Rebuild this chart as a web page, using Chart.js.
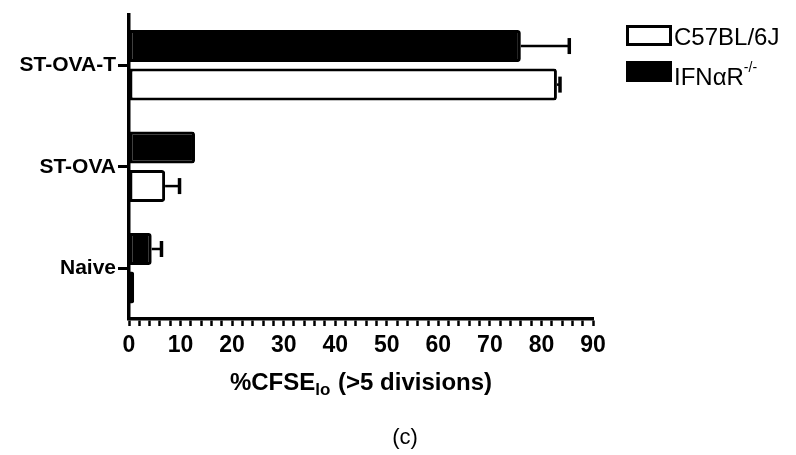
<!DOCTYPE html>
<html>
<head>
<meta charset="utf-8">
<script src="https://cdn.jsdelivr.net/npm/chart.js@4.4.1/dist/chart.umd.min.js"></script>
<style>
  html, body { margin: 0; padding: 0; background: #fff; }
  #wrap { position: relative; width: 796px; height: 455px; }
</style>
</head>
<body>
<div id="wrap"><canvas id="c" width="796" height="455"></canvas></div>
<script>
// Groups and measured proliferation (% CFSE-low cells, >5 divisions)
const categories = ['ST-OVA-T', 'ST-OVA', 'Naive'];
const c57Values = [83, 7, 1.0];
const c57Errors = [0.6, 2.8, 0];
const ifnarValues = [76, 12.8, 4.4];
const ifnarErrors = [9.4, 0, 1.9];
const xTicks = [0, 10, 20, 30, 40, 50, 60, 70, 80, 90];

const FONT = '"Liberation Sans", Arial, Helvetica, sans-serif';

// Error whiskers on the outer side of each bar, with a short cap
const errorBars = {
  id: 'errorBars',
  afterDatasetsDraw(chart) {
    const ctx = chart.ctx;
    const xs = chart.scales.x;
    chart.data.datasets.forEach((ds, di) => {
      const meta = chart.getDatasetMeta(di);
      meta.data.forEach((bar, i) => {
        const err = ds.errors[i];
        if (!err) return;
        const v = ds.data[i];
        const x0 = xs.getPixelForValue(v);
        const x1 = xs.getPixelForValue(v + err);
        const y = bar.y;
        ctx.save();
        ctx.strokeStyle = '#000';
        ctx.lineWidth = 2.5;
        ctx.beginPath();
        ctx.moveTo(x0, y);
        ctx.lineTo(x1, y);
        ctx.stroke();
        ctx.lineWidth = 3.5;
        ctx.beginPath();
        ctx.moveTo(x1, y - 8);
        ctx.lineTo(x1, y + 8);
        ctx.stroke();
        ctx.restore();
      });
    });
  }
};

// Axis title with subscript, legend with superscript, and panel caption
const annotations = {
  id: 'annotations',
  afterDraw(chart) {
    const ctx = chart.ctx;
    const area = chart.chartArea;
    ctx.save();
    ctx.fillStyle = '#000';
    ctx.textBaseline = 'alphabetic';

    // x-axis title: %CFSE(lo) (>5 divisions)
    const bigB = 'bold 24px ' + FONT;
    const smallB = 'bold 17px ' + FONT;
    const p1 = '%CFSE', sub = 'lo', p2 = ' (>5 divisions)';
    ctx.font = bigB; const w1 = ctx.measureText(p1).width; const w3 = ctx.measureText(p2).width;
    ctx.font = smallB; const w2 = ctx.measureText(sub).width + 1;
    let x = (area.left + area.right) / 2 - (w1 + w2 + w3) / 2;
    const yb = 390;
    ctx.textAlign = 'left';
    ctx.font = bigB; ctx.fillText(p1, x, yb); x += w1;
    ctx.font = smallB; ctx.fillText(sub, x, yb + 5); x += w2;
    ctx.font = bigB; ctx.fillText(p2, x, yb);

    // legend
    const ds = chart.data.datasets;
    const entries = [ds[1], ds[0]];
    const boxX = 626, boxW = 46, boxH = 21;
    const rows = [
      { y: 25, label: [{ t: 'C57BL/6J', sup: false }] },
      { y: 61, label: [{ t: 'IFN\u03b1R', sup: false }, { t: '-/-', sup: true }] }
    ];
    rows.forEach((row, r) => {
      const d = entries[r];
      ctx.fillStyle = d.backgroundColor;
      ctx.fillRect(boxX, row.y, boxW, boxH);
      ctx.strokeStyle = '#000';
      ctx.lineWidth = 3;
      ctx.strokeRect(boxX + 1.5, row.y + 1.5, boxW - 3, boxH - 3);
      ctx.fillStyle = '#000';
      let tx = boxX + boxW + 2;
      const base = r === 0 ? row.y + 20 : row.y + 24;
      row.label.forEach(part => {
        ctx.font = (part.sup ? '14px ' : '24px ') + FONT;
        ctx.fillText(part.t, tx, part.sup ? base - 13 : base);
        tx += ctx.measureText(part.t).width;
      });
    });

    // panel caption
    ctx.font = '22px ' + FONT;
    ctx.textAlign = 'center';
    ctx.fillText('(c)', 405, 444);
    ctx.restore();
  }
};

new Chart(document.getElementById('c'), {
  type: 'bar',
  data: {
    labels: categories,
    datasets: [
      {
        label: 'IFN\u03b1R-/-',
        data: ifnarValues,
        errors: ifnarErrors,
        backgroundColor: '#000',
        borderColor: '#000',
        borderWidth: 3,
        borderRadius: { topRight: 3, bottomRight: 3 },
        borderSkipped: false
      },
      {
        label: 'C57BL/6J',
        data: c57Values,
        errors: c57Errors,
        backgroundColor: '#fff',
        borderColor: '#000',
        borderWidth: 3,
        borderRadius: { topRight: 3, bottomRight: 3 },
        borderSkipped: false
      }
    ]
  },
  options: {
    indexAxis: 'y',
    responsive: false,
    animation: false,
    layout: { padding: { top: 8, right: 203, bottom: 0, left: 0 } },
    datasets: { bar: { categoryPercentage: 0.76, barPercentage: 0.83 } },
    plugins: { legend: { display: false }, tooltip: { enabled: false } },
    scales: {
      x: {
        type: 'linear',
        min: 0,
        max: 90,
        afterFit(scale) { scale.height = 136; },
        afterBuildTicks(scale) {
          const t = [];
          for (let v = 0; v <= 90; v += 2) t.push({ value: v });
          scale.ticks = t;
        },
        border: { display: true, color: '#000', width: 3.5 },
        grid: {
          display: true,
          drawOnChartArea: false,
          drawTicks: true,
          tickLength: 7,
          tickWidth: 2.5,
          tickColor: '#000'
        },
        ticks: {
          autoSkip: false,
          maxRotation: 0,
          padding: 6,
          color: '#000',
          font: { family: FONT, size: 23, weight: 'bold' },
          callback: v => (xTicks.includes(v) ? String(v) : '')
        }
      },
      y: {
        afterFit(scale) { scale.width = 129; },
        border: { display: true, color: '#000', width: 3.5 },
        grid: {
          display: true,
          offset: false,
          drawOnChartArea: false,
          tickLength: 11,
          tickWidth: 3,
          tickColor: '#000'
        },
        ticks: {
          padding: 2,
          color: '#000',
          font: { family: FONT, size: 21, weight: 'bold' }
        }
      }
    }
  },
  plugins: [errorBars, annotations]
});
</script>
</body>
</html>
